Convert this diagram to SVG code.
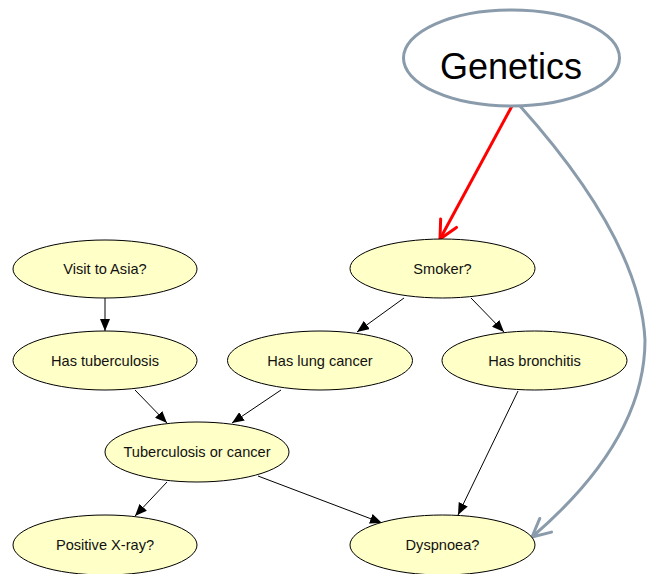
<svg xmlns="http://www.w3.org/2000/svg" width="649" height="574" viewBox="0 0 649 574">
  <style>
    .node ellipse { fill: #ffffc8; stroke: #000; stroke-width: 1; }
    .node text { font-family: "Liberation Sans", Arial, sans-serif; font-size: 14.6px; fill: #111; text-anchor: middle; }
    .edge { stroke: #000; stroke-width: 1; fill: none; marker-end: url(#tri); }
    #genetics ellipse { fill: #fff; stroke: #8a9bab; stroke-width: 3; }
    #genetics text { font-family: "Liberation Sans", Arial, sans-serif; font-size: 36px; fill: #000; text-anchor: middle; }
  </style>
  <defs>
    <marker id="tri" viewBox="0 0 12 10" refX="12" refY="5" markerWidth="12" markerHeight="10" markerUnits="userSpaceOnUse" orient="auto">
      <path d="M0,0 L12,5 L0,10 Z" fill="#000"/>
    </marker>
    <marker id="vRed" viewBox="0 0 24 24" refX="22" refY="12" markerWidth="24" markerHeight="24" markerUnits="userSpaceOnUse" orient="auto">
      <path d="M4,3 L22,12 L4,21" fill="none" stroke="#ff0000" stroke-width="3" stroke-linecap="round" stroke-linejoin="round"/>
    </marker>
    <marker id="vGrey" viewBox="0 0 24 24" refX="22" refY="12" markerWidth="24" markerHeight="24" markerUnits="userSpaceOnUse" orient="auto">
      <path d="M4,3 L22,12 L4,21" fill="none" stroke="#8a9bab" stroke-width="3" stroke-linecap="round" stroke-linejoin="round"/>
    </marker>
  </defs>

  <rect width="649" height="574" fill="#fff"/>

  <!-- connectors -->
  <g id="connectors">
    <line class="edge" x1="105" y1="298" x2="105" y2="331"/>
    <line class="edge" x1="404" y1="298" x2="357" y2="332"/>
    <line class="edge" x1="471" y1="298" x2="504" y2="332"/>
    <line class="edge" x1="135" y1="390" x2="167" y2="423"/>
    <line class="edge" x1="281" y1="390" x2="232" y2="423"/>
    <line class="edge" x1="518" y1="391" x2="458" y2="515"/>
    <line class="edge" x1="167" y1="482" x2="135" y2="516"/>
    <line class="edge" x1="258" y1="476" x2="382" y2="523"/>
    <line x1="512" y1="106" x2="440" y2="239" stroke="#ff0000" stroke-width="3" marker-end="url(#vRed)"/>
    <path d="M520,106 Q640,240 645,340 Q645,440 532,537" fill="none" stroke="#8a9bab" stroke-width="3" marker-end="url(#vGrey)"/>
  </g>

  <!-- nodes -->
  <g id="genetics">
    <ellipse cx="511.5" cy="58" rx="108" ry="48"/>
    <text x="511" y="79">Genetics</text>
  </g>
  <g id="visit-asia" class="node">
    <ellipse cx="105" cy="269" rx="92" ry="29"/>
    <text x="105" y="274">Visit to Asia?</text>
  </g>
  <g id="smoker" class="node">
    <ellipse cx="442.5" cy="268.5" rx="92.5" ry="29.5"/>
    <text x="442.5" y="274">Smoker?</text>
  </g>
  <g id="tuberculosis" class="node">
    <ellipse cx="105" cy="360.5" rx="92" ry="29.5"/>
    <text x="105" y="366">Has tuberculosis</text>
  </g>
  <g id="lung-cancer" class="node">
    <ellipse cx="320" cy="360.5" rx="92.5" ry="29.5"/>
    <text x="320" y="366">Has lung cancer</text>
  </g>
  <g id="bronchitis" class="node">
    <ellipse cx="534.5" cy="360.5" rx="92.5" ry="29.5"/>
    <text x="534.5" y="366">Has bronchitis</text>
  </g>
  <g id="tb-or-cancer" class="node">
    <ellipse cx="197" cy="452" rx="92" ry="30"/>
    <text x="197" y="457">Tuberculosis or cancer</text>
  </g>
  <g id="xray" class="node">
    <ellipse cx="105" cy="545" rx="92" ry="30"/>
    <text x="105" y="550">Positive X-ray?</text>
  </g>
  <g id="dyspnoea" class="node">
    <ellipse cx="442.5" cy="545" rx="92.5" ry="30"/>
    <text x="442.5" y="550">Dyspnoea?</text>
  </g>
</svg>
